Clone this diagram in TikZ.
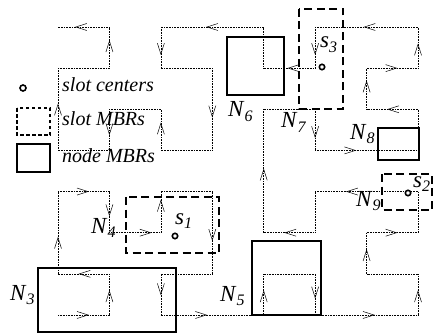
\documentclass[tikz,border=0pt]{standalone}
\usepackage{fontspec}
\setmainfont{Liberation Serif}
\usetikzlibrary{arrows.meta,decorations.markings}
\newcommand\lbl[2]{\textit{#1}\raisebox{-0.4ex}{\fontsize{16}{16}\selectfont\textit{#2}}}
\tikzset{
  hc/.style={densely dotted, line width=0.6pt},
  ar/.style={postaction={decorate,decoration={markings,
      mark=at position #1 with {\arrow{Straight Barb[length=11pt,width=7pt,line width=0.5pt]}}}}},
  ar/.default=0.6,
  nodembr/.style={line width=2.1pt},
  slotmbr/.style={line width=2pt, dash pattern=on 8pt off 4.5pt},
  ctr/.style={line width=1.6pt, fill=white},
  lab/.style={anchor=base west, inner sep=0pt, font=\fontsize{23}{23}\selectfont},
  legtxt/.style={anchor=base west, inner sep=0pt, font=\fontsize{20}{20}\selectfont\itshape},
}
\begin{document}
\begin{tikzpicture}[x=1pt,y=-1pt]
\useasboundingbox (0,0) rectangle (433,334);
\foreach \i in {0,...,7}{\foreach \j in {0,...,7}{
  \coordinate (p\i\j) at ({58+51.43*\i},{27+41.14*\j});}}
% Hilbert curve
\draw[hc,ar] (p07) -- (p17);
\draw[hc,ar] (p17) -- (p16);
\draw[hc,ar] (p16) -- (p06);
\draw[hc,ar=0.45] (p06) -- (p04);
\draw[hc,ar] (p04) -- (p14);
\draw[hc,ar] (p14) -- (p15);
\draw[hc,ar=0.82] (p15) -- (p25);
\draw[hc,ar=0.8] (p25) -- (p24);
\draw[hc] (p24) -- (p34);
\draw[hc,ar] (p34) -- (p36);
\draw[hc] (p36) -- (p26);
\draw[hc,ar=0.52] (p26) -- (p27);
\draw[hc,ar=0.45] (p27) -- (p47);
\draw[hc,ar] (p47) -- (p46);
\draw[hc] (p46) -- (p56);
\draw[hc,ar] (p56) -- (p57);
\draw[hc,ar=0.58] (p57) -- (p77);
\draw[hc,ar] (p77) -- (p76);
\draw[hc] (p76) -- (p66);
\draw[hc,ar] (p66) -- (p65);
\draw[hc,ar] (p65) -- (p75);
\draw[hc] (p75) -- (p74);
\draw[hc,ar=0.7] (p74) -- (p54);
\draw[hc] (p54) -- (p55);
\draw[hc,ar] (p55) -- (p45);
\draw[hc,ar=0.52] (p45) -- (p42);
\draw[hc] (p42) -- (p52);
\draw[hc,ar=0.7] (p52) -- (p53);
\draw[hc,ar=0.4] (p53) -- (p73);
\draw[hc] (p73) -- (p72);
\draw[hc,ar] (p72) -- (p62);
\draw[hc,ar=0.7] (p62) -- (p61);
\draw[hc,ar] (p61) -- (p71);
\draw[hc,ar] (p71) -- (p70);
\draw[hc,ar=0.53] (p70) -- (p50);
\draw[hc,ar=0.68] (p50) -- (p51);
\draw[hc,ar=0.54] (p51) -- (p41);
\draw[hc] (p41) -- (p40);
\draw[hc,ar=0.56] (p40) -- (p20);
\draw[hc,ar=0.68] (p20) -- (p21);
\draw[hc] (p21) -- (p31);
\draw[hc,ar] (p31) -- (p33);
\draw[hc] (p33) -- (p23);
\draw[hc,ar=0.68] (p23) -- (p22);
\draw[hc] (p22) -- (p12);
\draw[hc,ar=0.63] (p12) -- (p13);
\draw[hc] (p13) -- (p03);
\draw[hc,ar=0.57] (p03) -- (p01);
\draw[hc] (p01) -- (p11);
\draw[hc,ar=0.68] (p11) -- (p10);
\draw[hc,ar=0.67] (p10) -- (p00);
% node MBRs
\draw[nodembr] (227,37) rectangle (284,95);
\draw[nodembr] (378,128) rectangle (419,160);
\draw[nodembr] (252,241) rectangle (321,315);
\draw[nodembr] (38,268) rectangle (176,332);
% slot MBRs
\draw[slotmbr] (299,9) rectangle (343,109);
\draw[slotmbr] (382,174) rectangle (432,210);
\draw[slotmbr] (126,197) rectangle (219,253);
% slot centers
\draw[ctr] (322,67) circle (2.7);
\draw[ctr] (408,193) circle (2.7);
\draw[ctr] (175,236) circle (2.7);
% labels
\node[lab] (n6) at (228,117) {\lbl{N}{6}};
\node[lab] (n7) at (281,128) {\lbl{N}{7}};
\node[lab] (n8) at (350,139) {\lbl{N}{8}};
\node[lab] (n9) at (356,206) {\lbl{N}{9}};
\node[lab] (n4) at (91,233) {\lbl{N}{4}};
\node[lab] (n3) at (10,300) {\lbl{N}{3}};
\node[lab] (n5) at (220,301) {\lbl{N}{5}};
\node[lab] (s3) at (320,48) {\lbl{s}{3}};
\node[lab] (s2) at (413,187) {\lbl{s}{2}};
\node[lab] (s1) at (175,224) {\lbl{s}{1}};
% legend
\draw[ctr] (23,88) circle (3) coordinate (lc);
\draw[line width=1.8pt, dash pattern=on 3.5pt off 2.5pt] (17,108) rectangle (50,135);
\draw[nodembr] (17,144) rectangle (50,172);
\node[legtxt] (t1) at (62,92) {slot centers};
\node[legtxt] (t2) at (62,125) {slot MBRs};
\node[legtxt] (t3) at (62,162) {node MBRs};
\end{tikzpicture}
\end{document}
